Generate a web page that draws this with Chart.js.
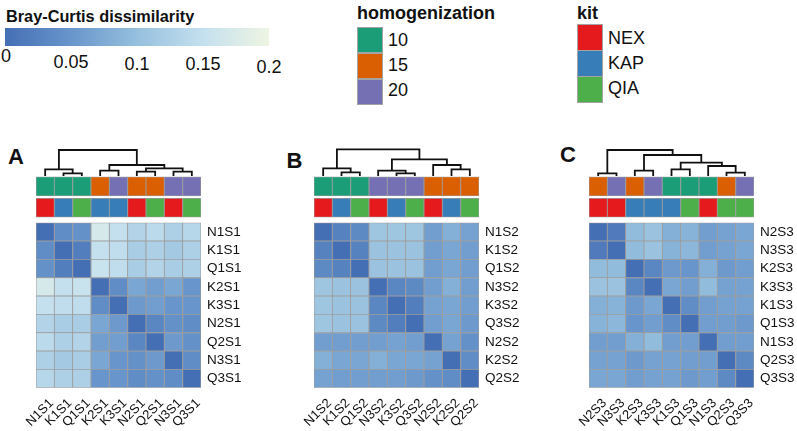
<!DOCTYPE html>
<html>
<head>
<meta charset="utf-8">
<script src="https://cdn.jsdelivr.net/npm/chart.js@4.4.1/dist/chart.umd.min.js"></script>
<style>
body { margin: 0; width: 797px; height: 431px; overflow: hidden; background: #fff; position: relative;
       font-family: "Liberation Sans", Arial, sans-serif; color: #111; }
.abs { position: absolute; line-height: 1; white-space: nowrap; }
.ttl { font-weight: bold; font-size: 18px; }
.tick { font-size: 18px; transform: translateX(-50%); }
.lab { font-size: 18px; }
.sw { position: absolute; box-sizing: border-box; border: 1.5px solid #a3a3a3; }
.panel { font-weight: bold; font-size: 22px; }
.wrap { position: absolute; top: 120px; width: 246px; height: 311px; }
</style>
</head>
<body>

<div class="abs ttl" style="left:6px;top:7.9px;font-size:16.3px">Bray-Curtis dissimilarity</div>
<div id="bar" class="abs" style="left:5px;top:28px;width:264px;height:18px"></div>
<div id="barTicks"></div>

<div class="abs ttl" style="left:357px;top:4.4px">homogenization</div>
<div id="homogLegend"></div>
<div class="abs ttl" style="left:577px;top:4.4px">kit</div>
<div id="kitLegend"></div>

<div class="abs panel" style="left:8px;top:146px">A</div>
<div class="abs panel" style="left:286.5px;top:150px">B</div>
<div class="abs panel" style="left:560px;top:144px">C</div>

<div class="wrap" style="left:0px"><canvas id="chartA" width="246" height="311"></canvas></div>
<div class="wrap" style="left:278px"><canvas id="chartB" width="246" height="311"></canvas></div>
<div class="wrap" style="left:553px"><canvas id="chartC" width="246" height="311"></canvas></div>

<script>
// ---- data ----
const samplesA = ["N1S1", "K1S1", "Q1S1", "K2S1", "K3S1", "N2S1", "Q2S1", "N3S1", "Q3S1"];
const homogA   = [10, 10, 10, 15, 20, 15, 15, 20, 20];
const kitA     = ["NEX", "KAP", "QIA", "KAP", "KAP", "NEX", "QIA", "NEX", "QIA"];
const distA = [
    [0.000, 0.040, 0.045, 0.170, 0.150, 0.130, 0.140, 0.125, 0.135],
    [0.040, 0.000, 0.020, 0.150, 0.145, 0.120, 0.125, 0.115, 0.125],
    [0.045, 0.020, 0.000, 0.155, 0.145, 0.120, 0.130, 0.120, 0.125],
    [0.170, 0.150, 0.155, 0.000, 0.040, 0.070, 0.060, 0.070, 0.050],
    [0.150, 0.145, 0.145, 0.040, 0.000, 0.055, 0.060, 0.050, 0.050],
    [0.130, 0.120, 0.120, 0.070, 0.055, 0.000, 0.030, 0.045, 0.040],
    [0.140, 0.125, 0.130, 0.060, 0.060, 0.030, 0.000, 0.055, 0.045],
    [0.125, 0.115, 0.120, 0.070, 0.050, 0.045, 0.055, 0.000, 0.040],
    [0.135, 0.125, 0.125, 0.050, 0.050, 0.040, 0.045, 0.040, 0.000]
];
// merges: [left, right, height]; negative = leaf position (1-based), positive = earlier merge
const mergesA = [[-2, -3, 0.08], [-1, 1, 0.20], [-4, -5, 0.16], [-6, -7, 0.13],
                 [-8, -9, 0.13], [4, 5, 0.23], [3, 6, 0.33], [2, 7, 0.78]];

const samplesB = ["N1S2", "K1S2", "Q1S2", "N3S2", "K3S2", "Q3S2", "N2S2", "K2S2", "Q2S2"];
const homogB   = [10, 10, 10, 20, 20, 20, 15, 15, 15];
const kitB     = ["NEX", "KAP", "QIA", "NEX", "KAP", "QIA", "NEX", "KAP", "QIA"];
const distB = [
    [0.000, 0.025, 0.035, 0.110, 0.110, 0.110, 0.060, 0.080, 0.065],
    [0.025, 0.000, 0.025, 0.105, 0.105, 0.105, 0.060, 0.070, 0.060],
    [0.035, 0.025, 0.000, 0.105, 0.105, 0.105, 0.060, 0.070, 0.060],
    [0.110, 0.105, 0.105, 0.000, 0.030, 0.035, 0.060, 0.080, 0.060],
    [0.110, 0.105, 0.105, 0.030, 0.000, 0.020, 0.065, 0.070, 0.060],
    [0.110, 0.105, 0.105, 0.035, 0.020, 0.000, 0.060, 0.070, 0.055],
    [0.060, 0.060, 0.060, 0.060, 0.065, 0.060, 0.000, 0.065, 0.045],
    [0.080, 0.070, 0.070, 0.080, 0.070, 0.070, 0.065, 0.000, 0.040],
    [0.065, 0.060, 0.060, 0.060, 0.060, 0.055, 0.045, 0.040, 0.000]
];
const mergesB = [[-2, -3, 0.11], [-1, 1, 0.23], [-5, -6, 0.08], [-4, 3, 0.16],
                 [-8, -9, 0.20], [-7, 5, 0.33], [4, 6, 0.50], [2, 7, 0.80]];

const samplesC = ["N2S3", "N3S3", "K2S3", "K3S3", "K1S3", "Q1S3", "N1S3", "Q2S3", "Q3S3"];
const homogC   = [15, 20, 15, 20, 10, 10, 10, 15, 20];
const kitC     = ["NEX", "NEX", "KAP", "KAP", "KAP", "QIA", "NEX", "QIA", "QIA"];
const distC = [
    [0.000, 0.015, 0.095, 0.105, 0.080, 0.085, 0.060, 0.065, 0.070],
    [0.015, 0.000, 0.095, 0.105, 0.085, 0.090, 0.060, 0.065, 0.070],
    [0.095, 0.095, 0.000, 0.030, 0.055, 0.050, 0.080, 0.055, 0.060],
    [0.105, 0.105, 0.030, 0.000, 0.070, 0.060, 0.095, 0.065, 0.065],
    [0.080, 0.085, 0.055, 0.070, 0.000, 0.040, 0.060, 0.065, 0.065],
    [0.085, 0.090, 0.050, 0.060, 0.040, 0.000, 0.060, 0.060, 0.055],
    [0.060, 0.060, 0.080, 0.095, 0.060, 0.060, 0.000, 0.060, 0.060],
    [0.065, 0.065, 0.055, 0.065, 0.065, 0.060, 0.060, 0.000, 0.035],
    [0.070, 0.070, 0.060, 0.065, 0.065, 0.055, 0.060, 0.035, 0.000]
];
const mergesC = [[-1, -2, 0.08], [-3, -4, 0.16], [-5, -6, 0.20], [-8, -9, 0.10],
                 [-7, 4, 0.30], [3, 5, 0.40], [2, 6, 0.63], [1, 7, 0.78]];

const scaleTicks  = [0, 0.05, 0.1, 0.15, 0.2];
const homogLevels = [10, 15, 20];
const kitLevels   = ["NEX", "KAP", "QIA"];

// ---- styles ----
const homogColors = {10: "#1b9e77", 15: "#d95f02", 20: "#7570b3"};
const kitColors   = {NEX: "#e41a1c", KAP: "#377eb8", QIA: "#4daf4a"};
const rampStops = [[0, [69, 111, 181]], [0.05, [104, 149, 203]], [0.1, [150, 192, 222]],
                   [0.15, [196, 224, 239]], [0.2, [238, 245, 226]]];
const FONT = '"Liberation Sans", Arial, sans-serif';
const GRID = "#9e9e9e";

function ramp(v) {
    v = Math.max(0, Math.min(0.2, v));
    for (let i = 1; i < rampStops.length; i++) {
        const [v0, c0] = rampStops[i - 1], [v1, c1] = rampStops[i];
        if (v <= v1) {
            const t = (v - v0) / (v1 - v0);
            return "rgb(" + c0.map((c, k) => Math.round(c + (c1[k] - c) * t)).join(",") + ")";
        }
    }
}

// legends
document.getElementById("bar").style.background =
    "linear-gradient(to right," + rampStops.map(s => ramp(s[0]) + " " + (s[0] / 0.2 * 100) + "%").join(",") + ")";
const tickTops = [46.7, 52.7, 54.7, 54.7, 57.7];
document.getElementById("barTicks").innerHTML = scaleTicks.map((t, i) =>
    `<div class="abs tick" style="left:${5 + t / 0.2 * 264 + (i === 0 ? 1 : 0)}px;top:${tickTops[i]}px">${t}</div>`).join("");
document.getElementById("homogLegend").innerHTML = homogLevels.map((h, i) =>
    `<div class="sw" style="left:356.5px;top:${26.5 + i * 26.2}px;width:26px;height:26.5px;background:${homogColors[h]}"></div>
     <div class="abs lab" style="left:388px;top:${31 + i * 25}px">${h}</div>`).join("");
document.getElementById("kitLegend").innerHTML = kitLevels.map((k, i) =>
    `<div class="sw" style="left:576.5px;top:${24 + i * 26}px;width:26px;height:26.5px;background:${kitColors[k]}"></div>
     <div class="abs lab" style="left:608px;top:${29.4 + i * 25}px">${k}</div>`).join("");

// dendrogram: leaves sit at y = -2.55 (cell units above the heatmap), heights scaled up
const LEAF_Y = -2.55, H_SCALE = 1.82;
function dendroPoints(merges) {
    const xs = [], hs = [], pts = [];
    const xOf = id => id < 0 ? -id - 0.5 : xs[id - 1];
    const hOf = id => id < 0 ? 0 : hs[id - 1];
    const y = h => LEAF_Y - h * H_SCALE;
    merges.forEach(([a, b, h]) => {
        const xa = xOf(a), xb = xOf(b);
        pts.push({x: xa, y: y(hOf(a))}, {x: xa, y: y(h)}, {x: xb, y: y(h)}, {x: xb, y: y(hOf(b))}, {x: xb, y: null});
        xs.push((xa + xb) / 2);
        hs.push(h);
    });
    return pts;
}

function drawPanel(id, samples, dist, homog, kit, merges) {
    const cells = [];
    samples.forEach((r, i) => samples.forEach((c, j) => cells.push({x: j + 0.5, y: [i, i + 1], v: dist[i][j]})));
    const homogCells = homog.map((h, j) => ({x: j + 0.5, y: [-2.51, -1.46], c: homogColors[h]}));
    const kitCells = kit.map((k, j) => ({x: j + 0.5, y: [-1.33, -0.3], c: kitColors[k]}));
    const cellStyle = {type: "bar", grouped: false, barPercentage: 1, categoryPercentage: 1,
                       borderColor: GRID, borderWidth: 0.8, borderSkipped: false};
    const centers = samples.map((_, i) => ({value: i + 0.5}));

    new Chart(document.getElementById(id), {
        data: {
            datasets: [
                {...cellStyle, data: cells, backgroundColor: ctx => ramp(ctx.raw.v)},
                {...cellStyle, data: homogCells, backgroundColor: ctx => ctx.raw.c},
                {...cellStyle, data: kitCells, backgroundColor: ctx => ctx.raw.c},
                {type: "line", data: dendroPoints(merges), borderColor: "#111", borderWidth: 1.8,
                 pointRadius: 0, spanGaps: false, tension: 0, borderJoinStyle: "miter"}
            ]
        },
        options: {
            responsive: false,
            animation: false,
            layout: {padding: {left: 36, top: 27.6, right: 0, bottom: 0}},
            plugins: {legend: {display: false}, tooltip: {enabled: false}},
            scales: {
                x: {
                    type: "linear", min: 0, max: 9, offset: false,
                    grid: {display: false, drawTicks: false}, border: {display: false},
                    afterBuildTicks: s => { s.ticks = samples.map((_, i) => ({value: i + 0.85})); },
                    afterFit: s => { s.height = 43.3; },
                    ticks: {autoSkip: false, minRotation: 45, maxRotation: 45, padding: 8, color: "#111",
                            font: {family: FONT, size: 13}, callback: v => samples[Math.floor(v)]}
                },
                y: {
                    type: "linear", position: "right", reverse: true, min: -4.1, max: 9,
                    grid: {display: false, drawTicks: false}, border: {display: false},
                    afterBuildTicks: s => { s.ticks = centers.slice(); },
                    afterFit: s => { s.width = 45; },
                    ticks: {padding: 6, color: "#111", font: {family: FONT, size: 13.5},
                            callback: v => samples[Math.floor(v)]}
                }
            }
        }
    });
}

drawPanel("chartA", samplesA, distA, homogA, kitA, mergesA);
drawPanel("chartB", samplesB, distB, homogB, kitB, mergesB);
drawPanel("chartC", samplesC, distC, homogC, kitC, mergesC);
</script>
</body>
</html>
